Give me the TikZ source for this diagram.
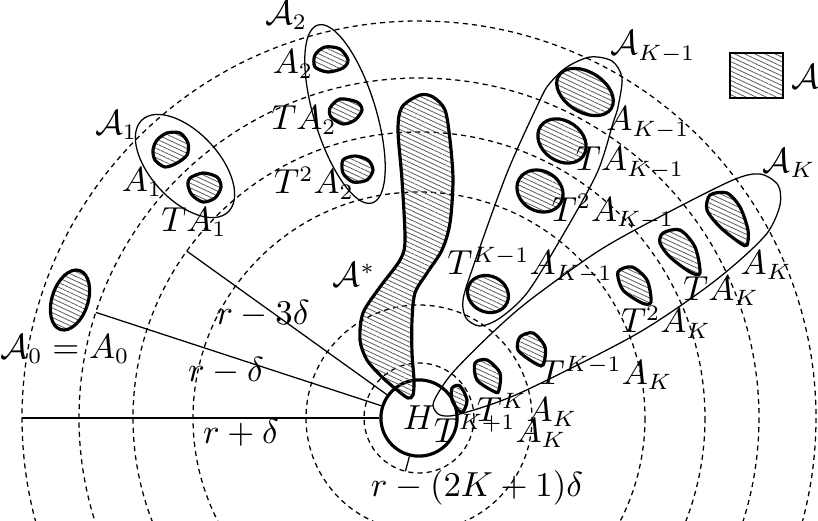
\documentclass[tikz,border=0pt]{standalone}
\usetikzlibrary{patterns.meta}
\begin{document}
\begin{tikzpicture}[x=0.315pt,y=-0.315pt,
  thinline/.style={line width=0.4pt},
  outline/.style={line width=0.4pt},
  blob/.style={line width=1pt, pattern={Lines[angle=-25,distance=1.35pt,line width=0.25pt]}, pattern color=black!65},
  dcirc/.style={line width=0.4pt, dash pattern=on 1.6pt off 1.3pt},
  lab/.style={inner sep=0pt, font=\fontsize{10.7pt}{13pt}\selectfont}]
\useasboundingbox (0,0) rectangle (818,520);
\coordinate (O) at (419,418);
\begin{scope}
\clip (0,0) rectangle (818,520);
\foreach \r in {55,113,226,286,340,397} \draw[dcirc] (O) circle[radius=\r];
\end{scope}

% H
\node[circle, draw, line width=1pt, minimum size=24pt, inner sep=0pt, font=\fontsize{10.7pt}{13pt}\selectfont] (H) at (O) {$H$\hspace{3pt}};

% radii
\coordinate (e1) at (22,418);
\coordinate (e2) at (95.9,312.4);
\coordinate (e3) at (186.8,251.1);
\coordinate (e4) at (405.4,471.3);
\draw[thinline] (H.180) -- (e1);
\draw[thinline] (H.162) -- (e2);
\draw[thinline] (H.144) -- (e3);
\draw[thinline] (H.256) -- (e4);
\node[lab] (lrpd) at (241,433) {$r+\delta$};
\node[lab] (lrmd) at (226,371) {$r-\delta$};
\node[lab] (lrm3) at (263,314) {$r-3\delta$};
\node[lab] (lrmk) at (477,488) {$r-(2K+1)\delta$};

% A0
\draw[blob, rotate around={72:(70,300)}] (70,300) ellipse[x radius=31, y radius=18];
\node[lab] (lA0) at (65,349) {$\mathcal{A}_0=A_0$};

% A1
\draw[outline, rotate around={-47:(185,166)}] (185,166) ellipse[x radius=63, y radius=34];
\draw[blob] plot[smooth cycle] coordinates {(157,140) (167,133) (180,133) (188,143) (187,155) (177,163) (165,167) (155,160) (153,150)};
\draw[blob] plot[smooth cycle] coordinates {(190,178) (203,173) (217,177) (221,187) (215,198) (203,202) (192,195) (188,185)};
\node[lab] (lcA1) at (116,125) {$\mathcal{A}_1$};
\node[lab] (lA1) at (142,182) {$A_1$};
\node[lab] (lTA1) at (194,222) {$TA_1$};

% A2
\draw[outline, rotate around={-73:(345,114)}] (345,114) ellipse[x radius=93, y radius=31];
\draw[blob] plot[smooth cycle] coordinates {(315,55) (325,47) (340,49) (348,60) (343,68) (328,72) (315,67)};
\draw[blob] plot[smooth cycle] coordinates {(330,108) (340,99) (357,102) (362,110) (355,120) (343,124) (331,117)};
\draw[blob] plot[smooth cycle] coordinates {(343,160) (355,156) (368,160) (373,170) (367,180) (353,182) (343,173)};
\node[lab] (lcA2) at (286,15) {$\mathcal{A}_2$};
\node[lab] (lA2) at (293,64) {$A_2$};
\node[lab] (lTA2) at (304,120) {$TA_2$};
\node[lab] (lT2A2) at (314,183) {$T^2A_2$};

% A*
\draw[blob] plot[smooth cycle] coordinates {(420,95) (402,107) (398,130) (402,180) (405,240) (400,260) (380,287) (363,313) (360,340) (367,360) (382,377) (397,390) (408,398) (413,395) (414,380) (412,353) (412,320) (415,293) (427,273) (442,250) (450,223) (453,180) (450,140) (445,110) (433,97)};
\node[lab] (lAs) at (354,275) {$\mathcal{A}^*$};

% A_{K-1}
\draw[outline] plot[smooth cycle] coordinates {(590,57) (612,61) (622,78) (618,107) (613,123) (597,173) (560,240) (527,293) (500,318) (480,326) (466,318) (463,300) (473,267) (507,173) (540,100) (550,83) (567,67)};
\draw[blob, rotate around={-32:(585,92)}] (585,92) ellipse[x radius=31, y radius=20];
\draw[blob, rotate around={-35:(562,141)}] (562,141) ellipse[x radius=26, y radius=20];
\draw[blob, rotate around={-30:(540,191)}] (540,191) ellipse[x radius=24, y radius=20];
\draw[blob, rotate around={-25:(488,294)}] (488,294) ellipse[x radius=21, y radius=18];
\node[lab] (lcAK1) at (653,47) {$\mathcal{A}_{K-1}$};
\node[lab] (lAK1) at (648,123) {$A_{K-1}$};
\node[lab] (lTAK1) at (630,163) {$TA_{K-1}$};
\node[lab] (lT2AK1) at (613,212) {$T^2A_{K-1}$};
\node[lab] (lTKAK1) at (530,265) {$T^{K-1}A_{K-1}$};

% A_K
\draw[outline] plot[smooth cycle] coordinates {(433,405) (440,390) (455,370) (492,333) (530,300) (600,250) (667,213) (733,180) (760,174) (778,185) (780,205) (768,232) (740,260) (700,292) (633,336) (520,393) (460,414) (440,415)};
\draw[blob] plot[smooth cycle] coordinates {(710,195) (727,193) (740,207) (748,230) (747,245) (740,243) (720,227) (707,210)};
\draw[blob] plot[smooth cycle] coordinates {(663,233) (680,230) (695,247) (700,273) (690,272) (670,257) (660,243)};
\draw[blob] plot[smooth cycle] coordinates {(618,272) (632,267) (647,280) (651,302) (642,303) (623,290)};
\draw[blob] plot[smooth cycle] coordinates {(520,337) (533,333) (545,347) (543,365) (533,362) (518,350)};
\draw[blob] plot[smooth cycle] coordinates {(475,363) (487,360) (500,373) (499,390) (495,392) (477,380)};
\draw[blob] plot[smooth cycle] coordinates {(452,388) (460,386) (467,400) (463,412) (458,410) (452,400)};
\node[lab] (lcAK) at (789,163) {$\mathcal{A}_K$};
\node[lab] (lAK) at (766,265) {$A_K$};
\node[lab] (lTAK) at (721,291) {$TA_K$};
\node[lab] (lT2AK) at (666,322) {$T^2A_K$};
\node[lab] (lTK1AK) at (606,373) {$T^{K-1}A_K$};
\node[lab] (lTKAK) at (527,410) {$T^KA_K$};
\node[lab] (lTKp1AK) at (500,431) {$T^{K+1}A_K$};

% legend
\draw[line width=0.4pt, pattern={Lines[angle=-25,distance=1.35pt,line width=0.25pt]}, pattern color=black!65] (730,53) rectangle (783,98);
\node[lab] (lleg) at (805,77) {$\mathcal{A}$};
\end{tikzpicture}
\end{document}
